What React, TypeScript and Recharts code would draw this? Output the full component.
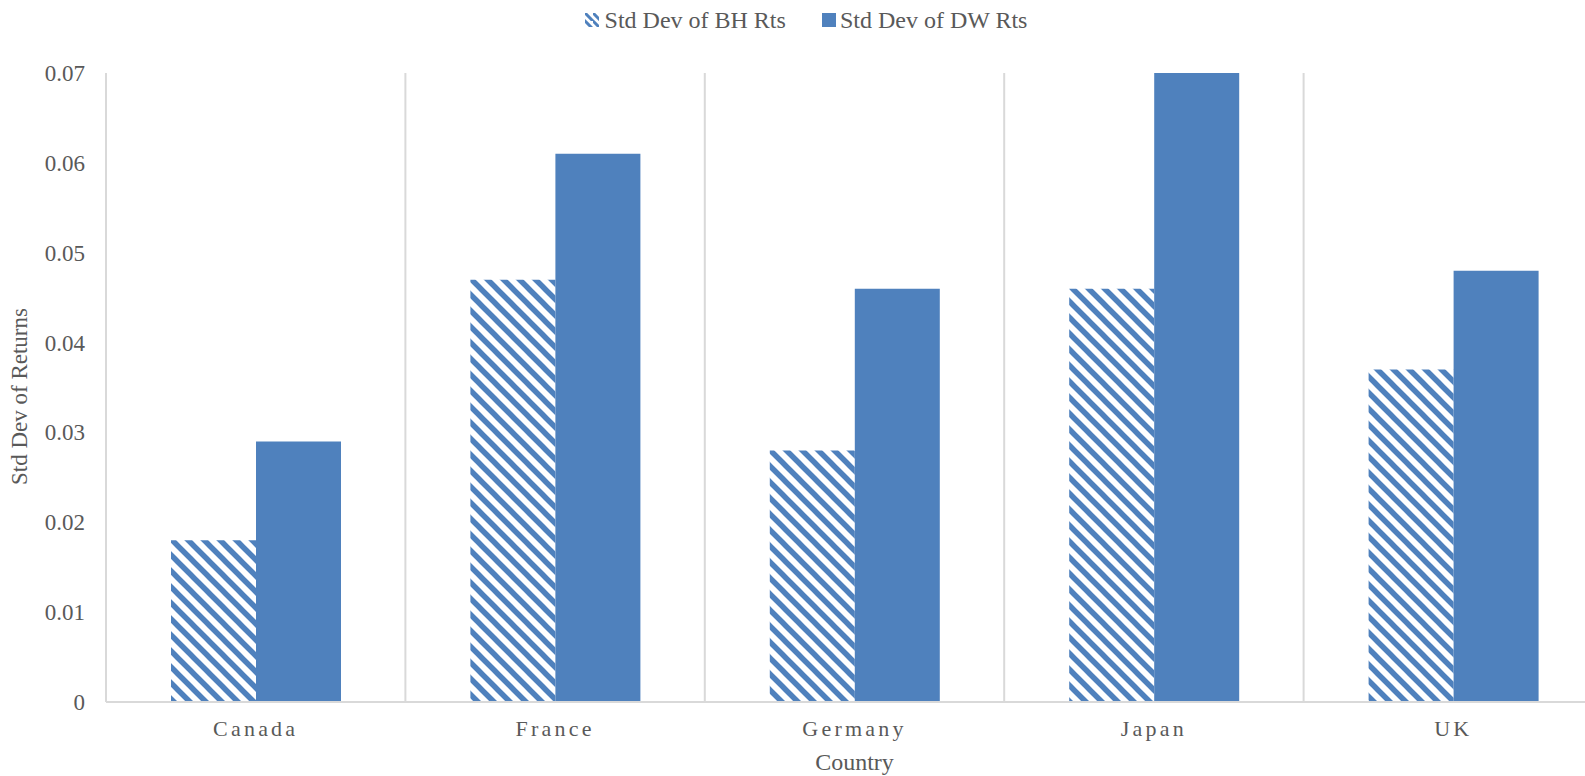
import React from 'react';
import { BarChart, Bar, XAxis, YAxis, CartesianGrid, Legend, Label } from 'recharts';

const categories = ['Canada', 'France', 'Germany', 'Japan', 'UK'];
const bhValues = [0.018, 0.047, 0.028, 0.046, 0.037];
const dwValues = [0.029, 0.061, 0.046, 0.07, 0.048];
const yTicks = [0, 0.01, 0.02, 0.03, 0.04, 0.05, 0.06, 0.07];
const seriesNames = ['Std Dev of BH Rts', 'Std Dev of DW Rts'];

const data = categories.map((c, i) => ({ country: c, bh: bhValues[i], dw: dwValues[i] }));

const BLUE = '#4F81BD';
const TEXT = '#595959';
const GRID = '#D9D9D9';
const FONT = '"Liberation Serif", "Times New Roman", serif';

const XTick = (props: any) => {
  const { x, y, payload } = props;
  return (
    <text x={x} y={y + 34} textAnchor="middle" fill={TEXT} fontSize={22} fontFamily={FONT} letterSpacing={3.2}>
      {payload.value}
    </text>
  );
};

const YTick = (props: any) => {
  const { x, y, payload } = props;
  const v = payload.value;
  return (
    <text x={x - 21} y={y + 8} textAnchor="end" fill={TEXT} fontSize={23} fontFamily={FONT}>
      {v === 0 ? '0' : v.toFixed(2)}
    </text>
  );
};

const LegendContent = () => (
  <div style={{ display: 'flex', justifyContent: 'center', alignItems: 'center', height: 40, fontFamily: FONT, fontSize: 24, color: TEXT }}>
    <div style={{ display: 'flex', alignItems: 'center', marginRight: 36 }}>
      <svg width={14} height={14} style={{ marginRight: 6 }}>
        <rect x={0} y={0} width={14} height={14} fill="url(#hatchLegend)" />
      </svg>
      <span>{seriesNames[0]}</span>
    </div>
    <div style={{ display: 'flex', alignItems: 'center' }}>
      <svg width={14} height={14} style={{ marginRight: 4 }}>
        <rect x={0} y={0} width={14} height={14} fill={BLUE} />
      </svg>
      <span>{seriesNames[1]}</span>
    </div>
  </div>
);

export default function App() {
  return (
    <div style={{ position: 'fixed', left: 0, top: 0, width: 1585, height: 776, overflow: 'hidden', background: '#fff' }}>
      <svg width={0} height={0} style={{ position: 'absolute' }}>
        <defs>
          <pattern id="hatchLegend" patternUnits="userSpaceOnUse" width={8} height={8}>
            <path d="M-2,-2 L10,10 M-6,2 L2,10 M6,-6 L14,2" stroke={BLUE} strokeWidth={3} />
          </pattern>
        </defs>
      </svg>
      <BarChart
        width={1620}
        height={776}
        data={data}
        margin={{ top: 33, right: 17, bottom: 0, left: 0 }}
        barGap={0}
        barSize={85}
      >
        <defs>
          <pattern id="hatch" patternUnits="userSpaceOnUse" width={16} height={16}>
            <path d="M-4,-4 L20,20 M-12,4 L4,20 M12,-4 L28,12" stroke={BLUE} strokeWidth={5.5} />
          </pattern>
        </defs>
        <CartesianGrid
          horizontal={false}
          stroke={GRID}
          strokeWidth={2}
          verticalCoordinatesGenerator={({ offset }: any) =>
            categories.map((_, i) => offset.left + (i * offset.width) / categories.length)
          }
        />
        <Legend
          verticalAlign="top"
          align="center"
          wrapperStyle={{ top: 0, left: 0, width: 1612, height: 40 }}
          content={<LegendContent />}
        />
        <XAxis
          dataKey="country"
          height={74}
          axisLine={{ stroke: GRID, strokeWidth: 2 }}
          tickLine={false}
          tickSize={0}
          tickMargin={0}
          tick={<XTick />}
          interval={0}
        >
          <Label
            content={({ viewBox }: any) => (
              <text x={viewBox.x + viewBox.width / 2} y={770} textAnchor="middle" fill={TEXT} fontSize={24} fontFamily={FONT}>
                Country
              </text>
            )}
          />
        </XAxis>
        <YAxis
          width={106}
          domain={[0, 0.07]}
          ticks={yTicks}
          allowDataOverflow
          axisLine={false}
          tickLine={false}
          tickSize={0}
          tickMargin={0}
          tick={<YTick />}
        >
          <Label
            content={({ viewBox }: any) => {
              const cy = viewBox.y + viewBox.height / 2 + 9;
              return (
                <text x={27} y={cy} transform={`rotate(-90, 27, ${cy})`} textAnchor="middle" fill={TEXT} fontSize={23} fontFamily={FONT}>
                  Std Dev of Returns
                </text>
              );
            }}
          />
        </YAxis>
        <Bar dataKey="bh" name={seriesNames[0]} fill="url(#hatch)" isAnimationActive={false} />
        <Bar dataKey="dw" name={seriesNames[1]} fill={BLUE} isAnimationActive={false} />
      </BarChart>
    </div>
  );
}
